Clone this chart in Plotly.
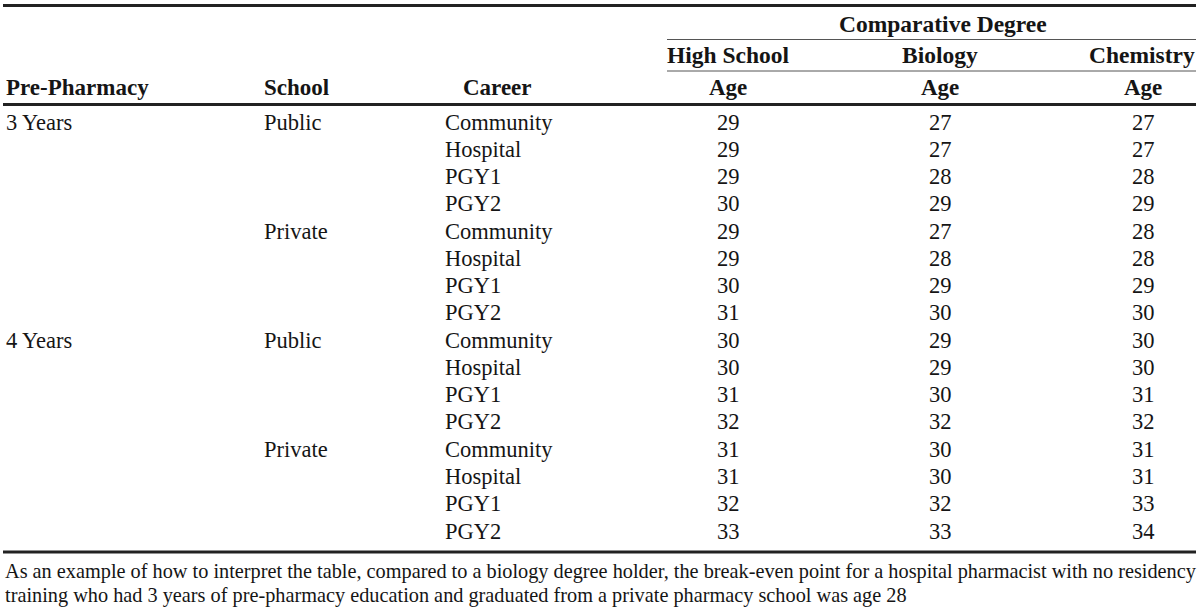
import plotly.graph_objects as go

pre_pharmacy = ["3 Years", "", "", "", "", "", "", "", "4 Years", "", "", "", "", "", "", ""]
school = ["Public", "", "", "", "Private", "", "", "", "Public", "", "", "", "Private", "", "", ""]
career = ["Community", "Hospital", "PGY1", "PGY2"] * 4
high_school = [29, 29, 29, 30, 29, 29, 30, 31, 30, 30, 31, 32, 31, 31, 32, 33]
biology = [27, 27, 28, 29, 27, 28, 29, 30, 29, 29, 30, 32, 30, 30, 32, 33]
chemistry = [27, 27, 28, 29, 28, 28, 29, 30, 30, 30, 31, 32, 31, 31, 33, 34]
degree_labels = ["High School", "Biology", "Chemistry"]
group_label = "Comparative Degree"
col_headers = ["Pre-Pharmacy", "School", "Career"]
sub_header = "Age"
footnote = ["As an example of how to interpret the table, compared to a biology degree holder, the break-even point for a hospital pharmacist with no residency",
            "training who had 3 years of pre-pharmacy education and graduated from a private pharmacy school was age 28"]

FONT = "Liberation Serif"
TXT = "#151515"
BODY = 22.5
HEAD = 23
W, H = 1200, 609

fig = go.Figure()
fig.add_trace(go.Scatter(x=[0, W], y=[0, H], mode="markers", marker=dict(opacity=0), hoverinfo="skip", showlegend=False))

ann = []
def txt(x, y, s, anchor="left", bold=False, size=BODY):
    ann.append(dict(x=x, y=y, text=f"<b>{s}</b>" if bold else s, xref="x", yref="y",
                    xanchor=anchor, yanchor="middle", showarrow=False,
                    font=dict(family=FONT, size=size, color=TXT)))

row0, dy = 122, 27.27
col_x = [4, 262, 443]
num_x = [728, 940, 1143]

# headers
txt(943, 24, group_label, "center", True, 23.5)
txt(728, 55, degree_labels[0], "center", True, 23.5)
txt(940, 55, degree_labels[1], "center", True, 23.5)
txt(1197, 55, degree_labels[2], "right", True, 23.5)
txt(col_x[0], 87, col_headers[0], "left", True, HEAD)
txt(col_x[1], 87, col_headers[1], "left", True, HEAD)
txt(497, 87, col_headers[2], "center", True, HEAD)
for x in num_x:
    txt(x, 87, sub_header, "center", True, HEAD)

for i in range(len(career)):
    y = row0 + i * dy
    if pre_pharmacy[i]:
        txt(col_x[0], y, pre_pharmacy[i])
    if school[i]:
        txt(col_x[1], y, school[i])
    txt(col_x[2], y, career[i])
    for x, series in zip(num_x, [high_school, biology, chemistry]):
        txt(x, y, str(series[i]), "center")

txt(3, 571, footnote[0], "left", size=20.3)
txt(3, 595, footnote[1], "left", size=20.3)

shapes = [
    dict(type="line", x0=3, x1=1196, y0=5.5, y1=5.5, line=dict(color="#222", width=3)),
    dict(type="line", x0=667, x1=1196, y0=39.5, y1=39.5, line=dict(color="#555", width=1)),
    dict(type="line", x0=667, x1=1196, y0=71, y1=71, line=dict(color="#555", width=1)),
    dict(type="line", x0=3, x1=1196, y0=104.5, y1=104.5, line=dict(color="#222", width=3)),
    dict(type="line", x0=3, x1=1196, y0=552, y1=552, line=dict(color="#222", width=3)),
]
for s in shapes:
    s.update(xref="x", yref="y")

fig.update_layout(
    width=W, height=H, margin=dict(l=0, r=0, t=0, b=0),
    paper_bgcolor="white", plot_bgcolor="white",
    xaxis=dict(range=[0, W], visible=False, fixedrange=True),
    yaxis=dict(range=[H, 0], visible=False, fixedrange=True),
    annotations=ann, shapes=shapes, showlegend=False,
)
fig.write_html("out.html", config={"displayModeBar": False},
               post_script="document.body.style.margin='0';document.body.style.overflow='hidden';")
